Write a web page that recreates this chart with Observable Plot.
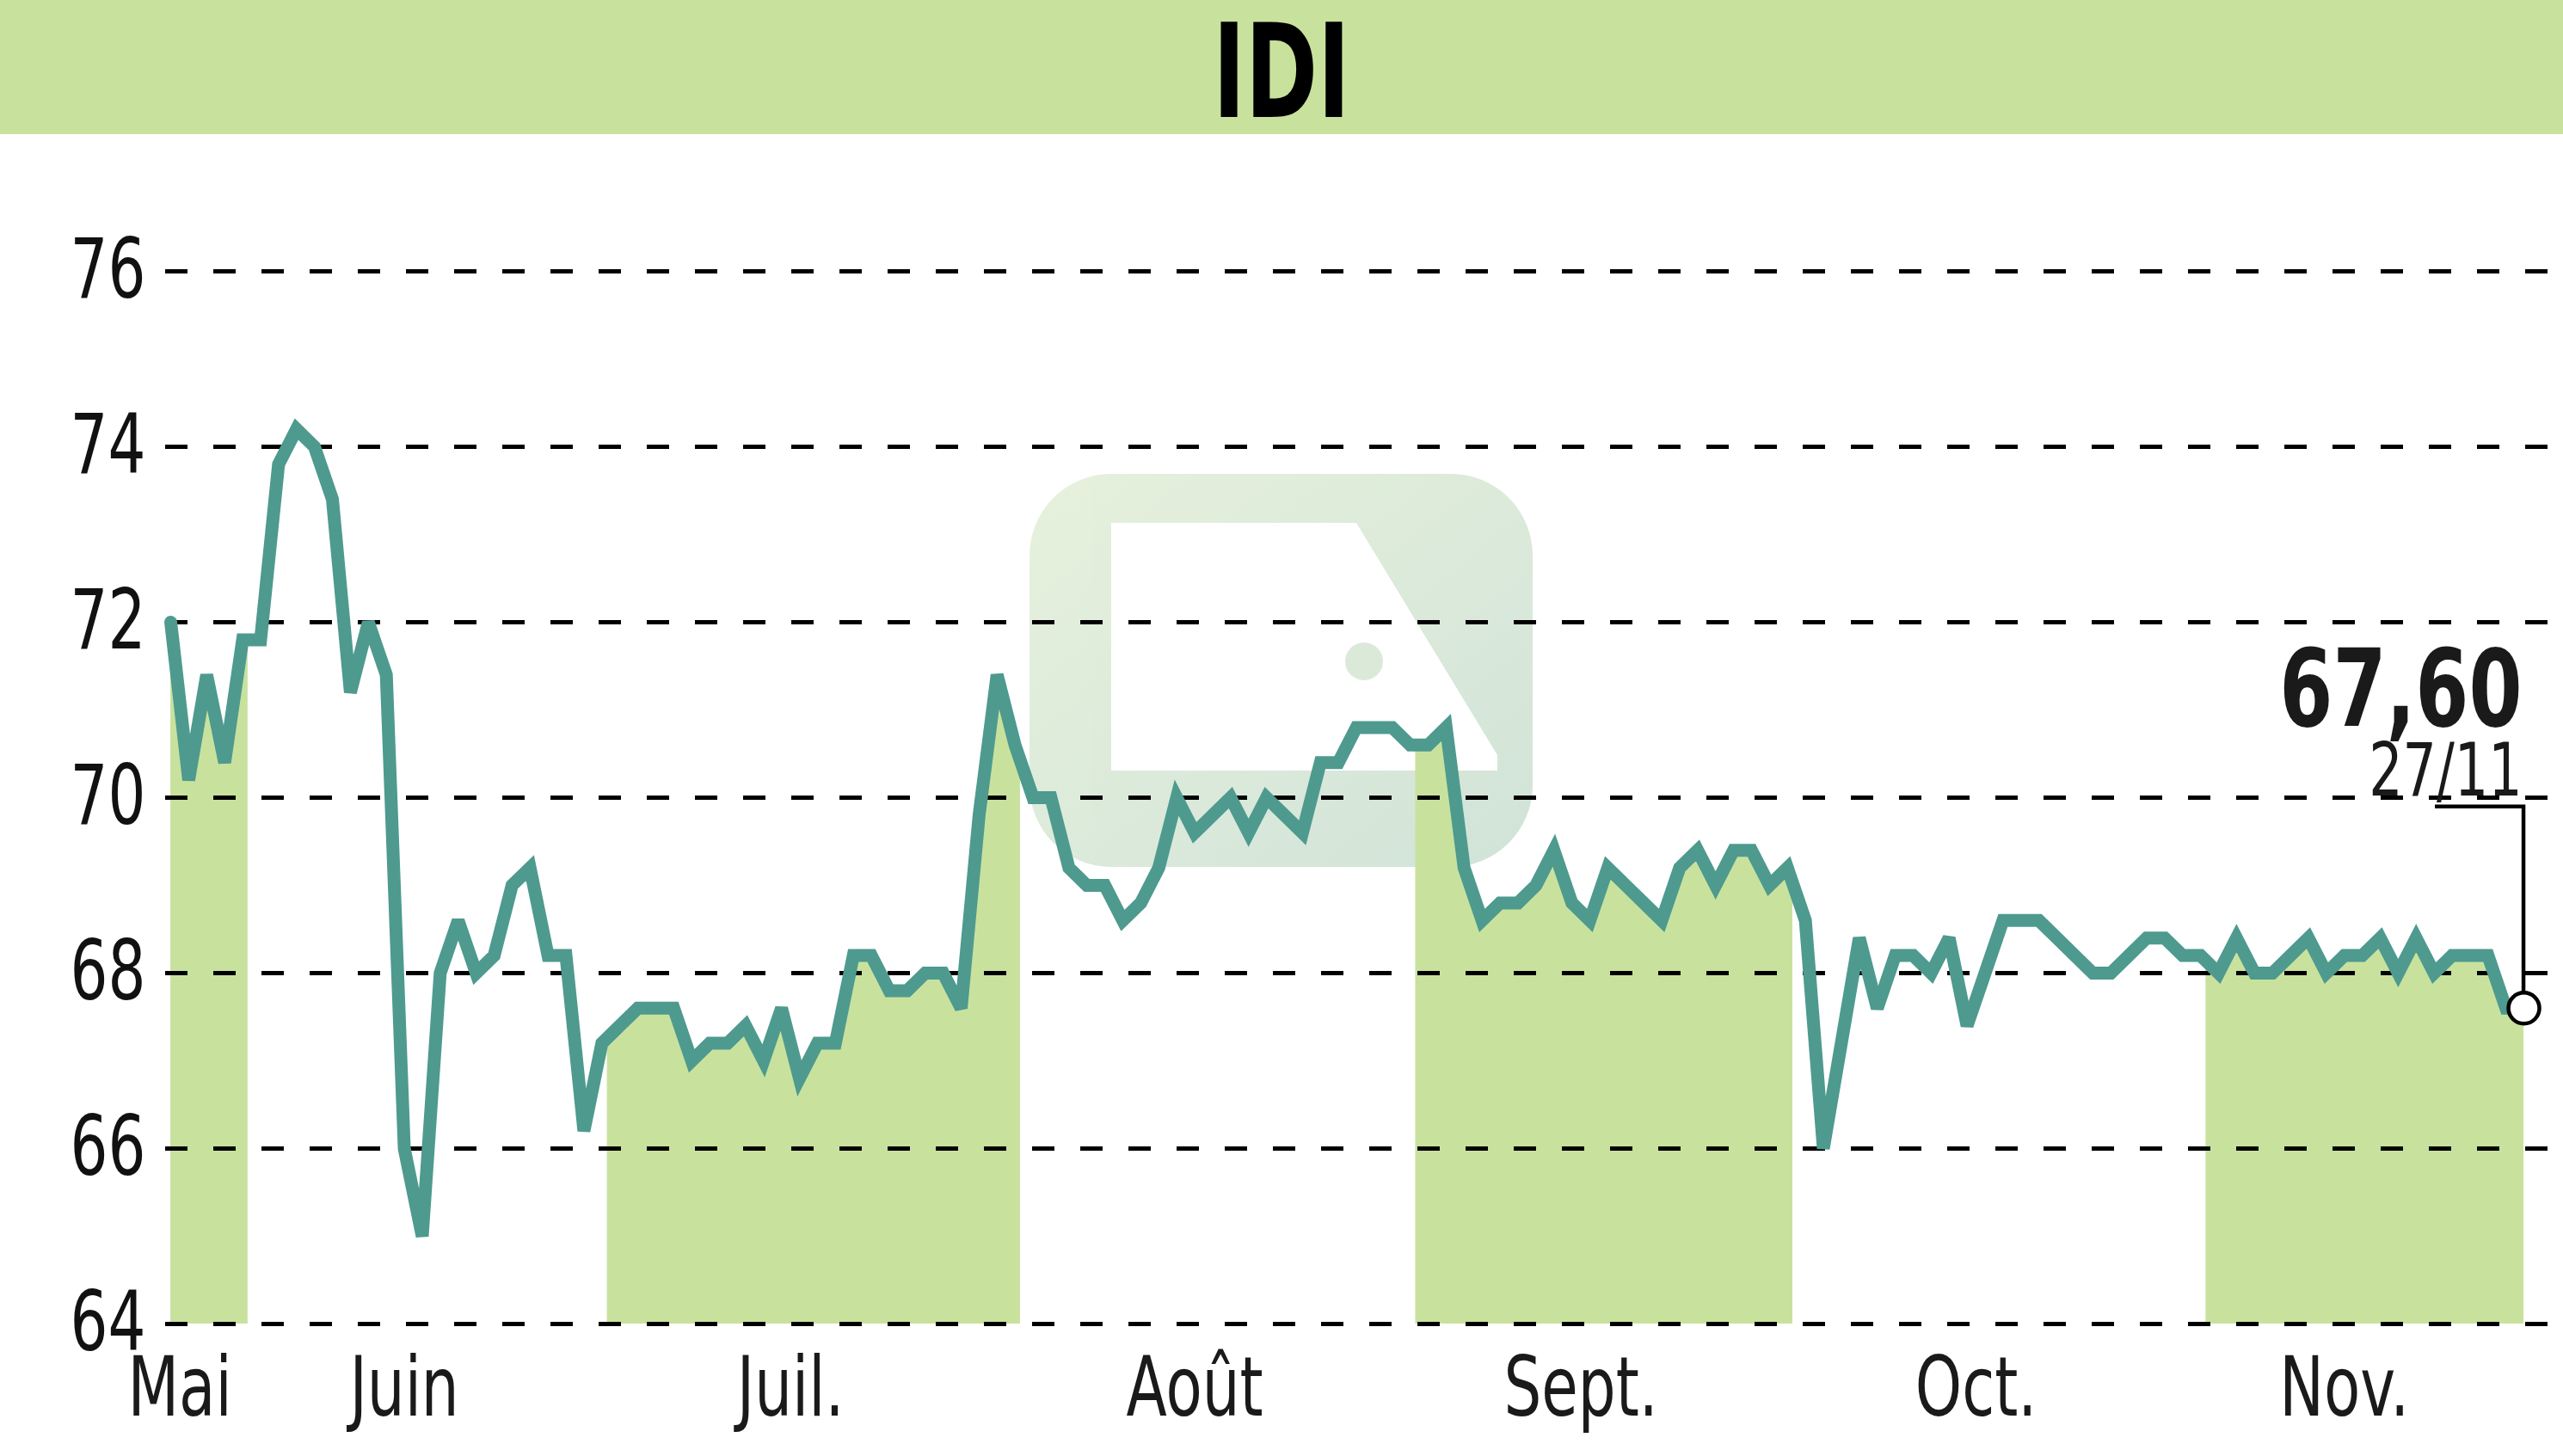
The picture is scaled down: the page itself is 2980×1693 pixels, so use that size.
<!DOCTYPE html>
<html><head><meta charset="utf-8">
<script src="https://cdn.jsdelivr.net/npm/d3@7"></script>
<script src="https://cdn.jsdelivr.net/npm/@observablehq/plot@0.6"></script>
<style>
html,body{margin:0;padding:0;background:#fff;}
body{width:2980px;height:1693px;overflow:hidden;}
#banner{position:relative;width:2980px;height:156px;background:#c8e29e;overflow:visible;}
#banner span{position:absolute;left:0;width:2980px;top:8px;text-align:center;font-family:"Liberation Sans Narrow","DejaVu Sans Condensed","DejaVu Sans",sans-serif;font-weight:bold;font-size:152px;line-height:152px;color:#000;transform:scaleX(0.74);transform-origin:1490px 0;}
#chart svg{display:block;}
</style></head><body>
<div id="banner"><span id="title"></span></div>
<div id="chart"></div>
<script>
const FONT = '"Liberation Sans Narrow", "DejaVu Sans Condensed", "DejaVu Sans", sans-serif';
const title = "IDI";
const months = ["Mai", "Juin", "Juil.", "Août", "Sept.", "Oct.", "Nov."];
const monthDays = [5, 20, 23, 22, 21, 23, 18];
const bandMonths = ["Mai", "Juil.", "Sept.", "Nov."];
const prices = [
  72.0, 70.2, 71.4, 70.4, 71.8,
  71.8, 73.8, 74.2, 74.0, 73.4, 71.2, 72.0, 71.4, 66.0, 65.0, 68.0, 68.6, 68.0, 68.2, 69.0, 69.2, 68.2, 68.2, 66.2, 67.2,
  67.4, 67.6, 67.6, 67.6, 67.0, 67.2, 67.2, 67.4, 67.0, 67.6, 66.8, 67.2, 67.2, 68.2, 68.2, 67.8, 67.8, 68.0, 68.0, 67.6, 69.8, 71.4, 70.6,
  70.0, 70.0, 69.2, 69.0, 69.0, 68.6, 68.8, 69.2, 70.0, 69.6, 69.8, 70.0, 69.6, 70.0, 69.8, 69.6, 70.4, 70.4, 70.8, 70.8, 70.8, 70.6,
  70.6, 70.8, 69.2, 68.6, 68.8, 68.8, 69.0, 69.4, 68.8, 68.6, 69.2, 69.0, 68.8, 68.6, 69.2, 69.4, 69.0, 69.4, 69.4, 69.0, 69.2,
  68.6, 66.0, 67.2, 68.4, 67.6, 68.2, 68.2, 68.0, 68.4, 67.4, 68.0, 68.6, 68.6, 68.6, 68.4, 68.2, 68.0, 68.0, 68.2, 68.4, 68.4, 68.2, 68.2,
  68.0, 68.4, 68.0, 68.0, 68.2, 68.4, 68.0, 68.2, 68.2, 68.4, 68.0, 68.4, 68.0, 68.2, 68.2, 68.2, 67.6, 67.6
];
const yTicks = [64, 66, 68, 70, 72, 74, 76];
const lastPriceLabel = "67,60";
const lastDateLabel = "27/11";

document.getElementById("title").textContent = title;

const data = prices.map((v, i) => ({i, v}));
let acc = 0;
const monthInfo = months.map((name, k) => { const first = acc; acc += monthDays[k]; return {name, first, last: acc - 1}; });
const labelData = monthInfo.map(d => ({name: d.name, pos: (d.first + d.last) / 2 - 1.5}));
const last = data[data.length - 1];

const W = 2980, H = 1537;
const chart = Plot.plot({
  width: W, height: H,
  marginLeft: 192, marginRight: 0, marginTop: 159, marginBottom: 154,
  x: {domain: [-0.29, 133.2], axis: null},
  y: {domain: [64, 76], axis: null},
  style: {background: "transparent", fontFamily: FONT, overflow: "visible"},
  marks: [
    Plot.areaY(data, {x: "i", y1: () => 64, y2: "v", fill: "#c8e29e"}),
    Plot.ruleY(yTicks, {stroke: "#000", strokeWidth: 5, strokeDasharray: "26,30"}),
    Plot.text(yTicks, {y: d => d, text: d => String(d), frameAnchor: "left", textAnchor: "end", dx: -23, fontSize: 96, fill: "#111", fontFamily: FONT}),
    Plot.text(labelData, {x: "pos", text: "name", frameAnchor: "bottom", lineAnchor: "top", dy: 38, fontSize: 96, fill: "#1a1a1a", fontFamily: FONT}),
    Plot.line(data, {x: "i", y: "v", stroke: "#4e9a8f", strokeWidth: 15, strokeLinejoin: "miter", strokeMiterlimit: 3}),
    Plot.dot([last], {x: "i", y: "v", r: 18, fill: "#fff", stroke: "#000", strokeWidth: 4.5}),
    Plot.text([last], {x: "i", y: "v", text: () => lastPriceLabel, textAnchor: "end", lineAnchor: "bottom", dx: -2, dy: -328, fontSize: 124, fontWeight: "bold", fill: "#1a1a1a", fontFamily: FONT}),
    Plot.text([last], {x: "i", y: "v", text: () => lastDateLabel, textAnchor: "end", lineAnchor: "bottom", dx: -2, dy: -247, fontSize: 86, fill: "#1a1a1a", fontFamily: FONT})
  ]
});
document.getElementById("chart").appendChild(chart);

// condense all chart texts horizontally around their anchor
chart.querySelectorAll('g[aria-label="text"] text').forEach(t => {
  const tr = t.getAttribute("transform") || "";
  t.setAttribute("transform", tr + " scale(0.8,1)");
});

const xs = chart.scale("x"), ys = chart.scale("y");
const svg = d3.select(chart);
const ns = "http://www.w3.org/2000/svg";

const defs = svg.insert("defs", ":first-child");
const grad = defs.append("linearGradient").attr("id", "wmgrad").attr("x1", "0").attr("y1", "0").attr("x2", "1").attr("y2", "1");
grad.append("stop").attr("offset", "0").attr("stop-color", "#e1eed4");
grad.append("stop").attr("offset", "1").attr("stop-color", "#c6ddcf");
const clip = defs.append("clipPath").attr("id", "bands");
monthInfo.filter(d => bandMonths.includes(d.name)).forEach(d => {
  const x1 = xs.apply(d.first - 0.7), x2 = xs.apply(d.last + 0.3);
  clip.append("rect").attr("x", x1).attr("y", 0).attr("width", x2 - x1).attr("height", H);
});
const areaG = chart.querySelector('g[aria-label="area"]');
areaG.setAttribute("clip-path", "url(#bands)");

// faint watermark behind the chart
const wm = document.createElementNS(ns, "g");
wm.setAttribute("opacity", "0.8");
chart.insertBefore(wm, areaG);
const w = d3.select(wm);
w.append("rect").attr("x", 1197).attr("y", 395).attr("width", 585).attr("height", 457).attr("rx", 95).attr("fill", "url(#wmgrad)");
w.append("polygon").attr("points", "1292,452 1577,452 1741,722 1741,740 1292,740").attr("fill", "#fff");
w.append("circle").attr("cx", 1586).attr("cy", 613).attr("r", 22).attr("fill", "#d3e5cf");

// leader line to last point
const px = xs.apply(last.i), py = ys.apply(last.v);
svg.append("path").attr("d", `M${px - 103},${py - 234}H${px}V${py - 18}`).attr("fill", "none").attr("stroke", "#000").attr("stroke-width", 4.5);
</script>
</body></html>
